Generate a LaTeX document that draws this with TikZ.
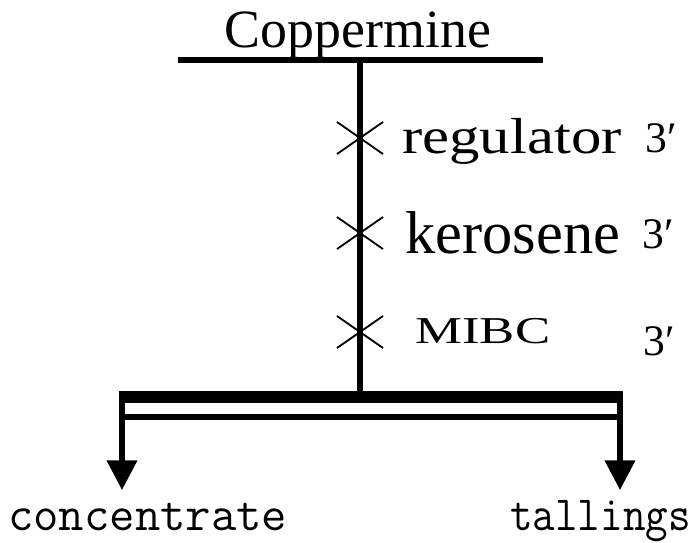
\documentclass[tikz,border=0pt]{standalone}
\usepackage{fontspec}
\setmainfont{Liberation Serif}
\usetikzlibrary{arrows.meta,positioning}

\tikzset{
	flow/.style={line width=3.6pt},
	tick/.style={line width=1.3pt},
	label/.style={inner sep=0pt, anchor=base west},
	product/.style={inner sep=0pt, anchor=base west, font=\ttfamily\fontsize{35pt}{37pt}\selectfont}
}

\begin{document}
\begin{tikzpicture}[x=0.025cm, y=-0.025cm]
	\useasboundingbox (0,0) rectangle (700,542);

	\node (ore) at (358,47) [inner sep=0pt, anchor=base, font=\fontsize{38.3pt}{40pt}\selectfont] {Coppermine};
	\coordinate (feedL) at (178,60);
	\coordinate (feedR) at (543,60);
	\coordinate (feed) at (360,60);
	\coordinate (cell) at (360,391);

	\node (reg) at (402,153) [label, xscale=1.2, transform shape, font=\fontsize{36pt}{38pt}\selectfont] {regulator};
	\node (ker) at (405,253) [label, font=\fontsize{43pt}{45pt}\selectfont] {kerosene};
	\node (mibc) at (415,343) [label, xscale=1.39, transform shape, font=\fontsize{27pt}{29pt}\selectfont] {MIBC};

	\node (t1) at (645,152) [label, font=\fontsize{31pt}{33pt}\selectfont] {3′};
	\node (t2) at (642,248) [label, font=\fontsize{31pt}{33pt}\selectfont] {3′};
	\node (t3) at (643,355) [label, font=\fontsize{31pt}{33pt}\selectfont] {3′};

	\node (conc) at (8,530) [product] {concentrate};
	\node (tail) at (510,530) [product, xscale=0.89, transform shape] {tallings};

	\coordinate (cellL) at (122,391);
	\coordinate (cellR) at (620,391);
	\coordinate (concIn) at (122,490);
	\coordinate (tailIn) at (620,490);

	% feed line
	\draw[flow] (feedL) -- (feedR);
	\draw[flow] (feed) -- (cell);

	% reagent additions
	\foreach \y in {138,233,332} {
		\draw[tick] (337,\y-16) -- (383,\y+16);
		\draw[tick] (337,\y+16) -- (383,\y-16);
	}

	% flotation cell
	\draw[line width=8.5pt] (120,397) -- (622,397);
	\draw[line width=3.6pt] (122,417) -- (620,417);

	\draw[flow, -{Triangle[length=21pt, width=21pt]}] (cellL) -- (concIn);
	\draw[flow, -{Triangle[length=21pt, width=21pt]}] (cellR) -- (tailIn);

\end{tikzpicture}
\end{document}
